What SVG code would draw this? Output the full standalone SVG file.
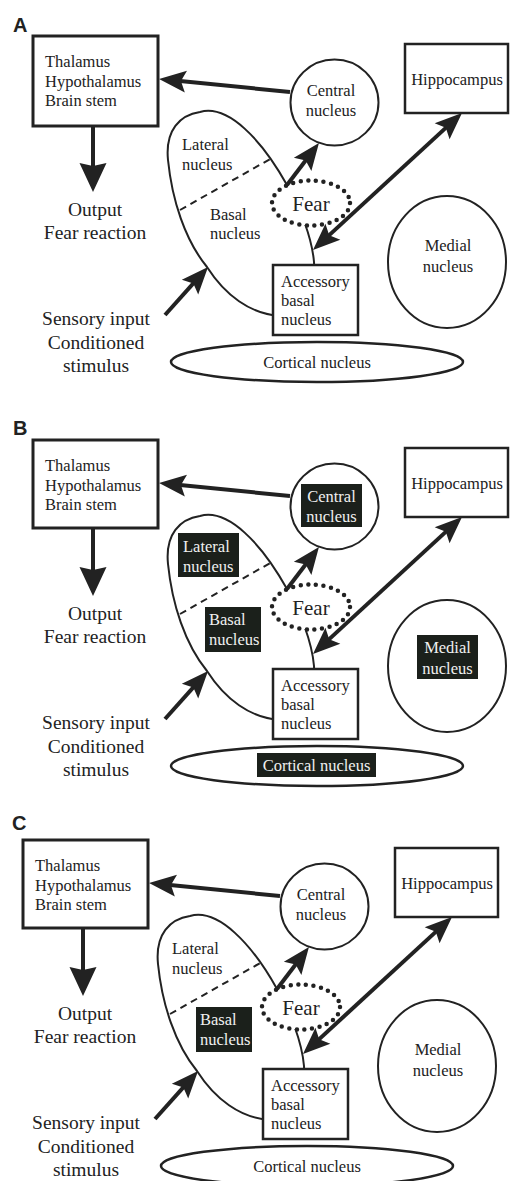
<svg xmlns="http://www.w3.org/2000/svg" width="510" height="1181" viewBox="0 0 510 1181">
<defs>
<style>
.t{font-family:'Liberation Serif','Times New Roman','DejaVu Serif','Noto Serif',serif;font-size:16.5px;fill:#222}
.m{text-anchor:middle}
.tw{fill:#f0f0f0}
.big{font-size:19.5px}
.fear{font-size:21px}
.lbl{font-family:'Liberation Sans',Arial,sans-serif;font-weight:bold;font-size:20px;fill:#222}
.box{fill:#fff;stroke:#222;stroke-width:2.5}
.tbox{fill:#fff;stroke:#222;stroke-width:3}
.ol{fill:none;stroke:#222;stroke-width:2}
.olw{fill:#fff;stroke:#222;stroke-width:2}
.cort{fill:none;stroke:#222;stroke-width:2.5}
.hl{fill:#1b201b}
.con{fill:none;stroke:#222;stroke-width:4}
.dash{fill:none;stroke:#222;stroke-width:2;stroke-dasharray:7 5}
.dots{fill:#fff;stroke:#222;stroke-width:4.5;stroke-dasharray:0 7.6;stroke-linecap:round}
</style>
<marker id="ah" markerUnits="userSpaceOnUse" markerWidth="27" markerHeight="22" viewBox="0 0 27 22" refX="16" refY="11" orient="auto-start-reverse" overflow="visible"><path d="M0,0 L27,11 L0,22 L5,11 z" fill="#222"/></marker>
<marker id="ahL" markerUnits="userSpaceOnUse" markerWidth="29" markerHeight="27" viewBox="0 0 29 27" refX="19" refY="13.5" orient="auto" overflow="visible"><path d="M0,0 L29,13.5 L0,27 L3,13.5 z" fill="#222"/></marker>
</defs>
<rect width="510" height="1181" fill="#fff"/>

<g id="labels">
<text class="lbl" x="13" y="32">A</text>
<text class="lbl" x="13" y="435">B</text>
<text class="lbl" x="12" y="830">C</text>
</g>

<!-- Panel A -->
<g id="panel-a" font-family="Liberation Serif, DejaVu Serif, serif">
<g id="a-thalamus"><rect class="tbox" x="33" y="36" width="125" height="90"/><text class="t" x="45" y="67">Thalamus</text><text class="t" x="45" y="87">Hypothalamus</text><text class="t" x="45" y="106">Brain stem</text></g>
<g id="a-output"><text class="t big m" x="95" y="216">Output</text><text class="t big m" x="95" y="239">Fear reaction</text></g>
<g id="a-sensory"><text class="t big m" x="96" y="325">Sensory input</text><text class="t big m" x="96" y="349">Conditioned</text><text class="t big m" x="96" y="372">stimulus</text></g>
<g id="a-amygdala"><path class="ol" d="M200,112 C228,104 262,140 287,185 C300,207 312,238 314,262 C316,300 300,318 280,316 C250,314 225,295 207,267 C185,240 172,200 168,160 C165,130 180,115 200,112 Z"/><line class="dash" x1="180" y1="210" x2="272" y2="158"/></g>
<g id="a-lateral"><text class="t" x="182" y="150">Lateral</text><text class="t" x="182" y="170">nucleus</text></g>
<g id="a-basal"><text class="t" x="210" y="220">Basal</text><text class="t" x="210" y="239">nucleus</text></g>
<g id="a-cortical"><ellipse class="cort" cx="317" cy="362" rx="146" ry="20"/><text class="t m" x="317" y="368">Cortical nucleus</text></g>
<g id="a-accessory"><rect class="box" x="273" y="265" width="85" height="70"/><text class="t" x="281" y="287">Accessory</text><text class="t" x="281" y="306">basal</text><text class="t" x="281" y="325">nucleus</text></g>
<g id="a-fear"><ellipse class="dots" cx="311" cy="203" rx="39" ry="22.5"/><text class="t fear m" x="311" y="211">Fear</text></g>
<g id="a-central"><ellipse class="olw" cx="334.5" cy="102.5" rx="44" ry="43"/><text class="t m" x="331" y="96">Central</text><text class="t m" x="331" y="116">nucleus</text></g>
<g id="a-hippocampus"><rect class="box" x="405" y="44" width="103" height="69"/><text class="t m" x="457" y="85">Hippocampus</text></g>
<g id="a-medial"><ellipse class="ol" cx="447" cy="262" rx="59" ry="66"/><text class="t m" x="448" y="251">Medial</text><text class="t m" x="448" y="272">nucleus</text></g>
<g id="a-connectors">
<line class="con" x1="290" y1="92" x2="170" y2="80" marker-end="url(#ah)"/>
<line class="con" x1="93" y1="127" x2="93" y2="182" stroke-width="5" marker-end="url(#ahL)"/>
<line class="con" x1="287" y1="185" x2="312.3" y2="151.7" marker-end="url(#ah)"/>
<line class="con" x1="321.1" y1="242.6" x2="453.9" y2="120.4" marker-start="url(#ah)" marker-end="url(#ah)"/>
<line class="con" x1="165" y1="315" x2="200.7" y2="275.2" marker-end="url(#ah)"/>
</g>
</g>

<!-- Panel B -->
<g id="panel-b" transform="translate(0,404)">
<g id="b-thalamus"><rect class="tbox" x="33" y="36" width="125" height="88"/><text class="t" x="45" y="67">Thalamus</text><text class="t" x="45" y="87">Hypothalamus</text><text class="t" x="45" y="106">Brain stem</text></g>
<g id="b-output"><text class="t big m" x="95" y="216">Output</text><text class="t big m" x="95" y="239">Fear reaction</text></g>
<g id="b-sensory"><text class="t big m" x="96" y="325">Sensory input</text><text class="t big m" x="96" y="349">Conditioned</text><text class="t big m" x="96" y="372">stimulus</text></g>
<g id="b-amygdala"><path class="ol" d="M200,112 C228,104 262,140 287,185 C300,207 312,238 314,262 C316,300 300,318 280,316 C250,314 225,295 207,267 C185,240 172,200 168,160 C165,130 180,115 200,112 Z"/><line class="dash" x1="180" y1="210" x2="272" y2="158"/></g>
<g id="b-lateral"><rect class="hl" x="178" y="129" width="61" height="44"/><text class="t tw" x="183" y="148">Lateral</text><text class="t tw" x="183" y="168">nucleus</text></g>
<g id="b-basal"><rect class="hl" x="205" y="203" width="56" height="45"/><text class="t tw" x="209" y="221">Basal</text><text class="t tw" x="209" y="241">nucleus</text></g>
<g id="b-cortical"><ellipse class="cort" cx="317" cy="362" rx="146" ry="20"/><rect class="hl" x="257" y="349" width="119" height="24"/><text class="t tw m" x="316.5" y="367">Cortical nucleus</text></g>
<g id="b-accessory"><rect class="box" x="273" y="265" width="85" height="70"/><text class="t" x="281" y="287">Accessory</text><text class="t" x="281" y="306">basal</text><text class="t" x="281" y="325">nucleus</text></g>
<g id="b-fear"><ellipse class="dots" cx="311" cy="203" rx="39" ry="22.5"/><text class="t fear m" x="311" y="211">Fear</text></g>
<g id="b-central"><ellipse class="olw" cx="334.5" cy="102.5" rx="44" ry="43"/><rect class="hl" x="301" y="80" width="61" height="43"/><text class="t tw m" x="331.5" y="98">Central</text><text class="t tw m" x="331.5" y="118">nucleus</text></g>
<g id="b-hippocampus"><rect class="box" x="405" y="44" width="103" height="69"/><text class="t m" x="457" y="85">Hippocampus</text></g>
<g id="b-medial"><ellipse class="ol" cx="447" cy="262" rx="59" ry="66"/><rect class="hl" x="417" y="231" width="61" height="44"/><text class="t tw m" x="447.5" y="249">Medial</text><text class="t tw m" x="447.5" y="270">nucleus</text></g>
<g id="b-connectors">
<line class="con" x1="290" y1="92" x2="170" y2="80" marker-end="url(#ah)"/>
<line class="con" x1="93" y1="125" x2="93" y2="182" stroke-width="5" marker-end="url(#ahL)"/>
<line class="con" x1="287" y1="185" x2="312.3" y2="151.7" marker-end="url(#ah)"/>
<line class="con" x1="321.1" y1="242.6" x2="453.9" y2="120.4" marker-start="url(#ah)" marker-end="url(#ah)"/>
<line class="con" x1="165" y1="315" x2="200.7" y2="275.2" marker-end="url(#ah)"/>
</g>
</g>

<!-- Panel C -->
<g id="panel-c" transform="translate(-10,804)">
<g id="c-thalamus"><rect class="tbox" x="33" y="36" width="125" height="88"/><text class="t" x="45" y="67">Thalamus</text><text class="t" x="45" y="87">Hypothalamus</text><text class="t" x="45" y="106">Brain stem</text></g>
<g id="c-output"><text class="t big m" x="95" y="216">Output</text><text class="t big m" x="95" y="239">Fear reaction</text></g>
<g id="c-sensory"><text class="t big m" x="96" y="325">Sensory input</text><text class="t big m" x="96" y="349">Conditioned</text><text class="t big m" x="96" y="372">stimulus</text></g>
<g id="c-amygdala"><path class="ol" d="M200,112 C228,104 262,140 287,185 C300,207 312,238 314,262 C316,300 300,318 280,316 C250,314 225,295 207,267 C185,240 172,200 168,160 C165,130 180,115 200,112 Z"/><line class="dash" x1="180" y1="210" x2="272" y2="158"/></g>
<g id="c-lateral"><text class="t" x="182" y="150">Lateral</text><text class="t" x="182" y="170">nucleus</text></g>
<g id="c-basal"><rect class="hl" x="206" y="203" width="56" height="45"/><text class="t tw" x="210" y="221">Basal</text><text class="t tw" x="210" y="241">nucleus</text></g>
<g id="c-cortical"><ellipse class="cort" cx="317" cy="362" rx="146" ry="20"/><text class="t m" x="317" y="368">Cortical nucleus</text></g>
<g id="c-accessory"><rect class="box" x="273" y="265" width="85" height="70"/><text class="t" x="281" y="287">Accessory</text><text class="t" x="281" y="306">basal</text><text class="t" x="281" y="325">nucleus</text></g>
<g id="c-fear"><ellipse class="dots" cx="311" cy="203" rx="39" ry="22.5"/><text class="t fear m" x="311" y="211">Fear</text></g>
<g id="c-central"><ellipse class="olw" cx="334.5" cy="102.5" rx="44" ry="43"/><text class="t m" x="331" y="96">Central</text><text class="t m" x="331" y="116">nucleus</text></g>
<g id="c-hippocampus"><rect class="box" x="405" y="44" width="103" height="69"/><text class="t m" x="457" y="85">Hippocampus</text></g>
<g id="c-medial"><ellipse class="ol" cx="447" cy="262" rx="59" ry="66"/><text class="t m" x="448" y="251">Medial</text><text class="t m" x="448" y="272">nucleus</text></g>
<g id="c-connectors">
<line class="con" x1="290" y1="92" x2="170" y2="80" marker-end="url(#ah)"/>
<line class="con" x1="93" y1="125" x2="93" y2="182" stroke-width="5" marker-end="url(#ahL)"/>
<line class="con" x1="287" y1="185" x2="312.3" y2="151.7" marker-end="url(#ah)"/>
<line class="con" x1="321.1" y1="242.6" x2="453.9" y2="120.4" marker-start="url(#ah)" marker-end="url(#ah)"/>
<line class="con" x1="165" y1="315" x2="200.7" y2="275.2" marker-end="url(#ah)"/>
</g>
</g>
</svg>
